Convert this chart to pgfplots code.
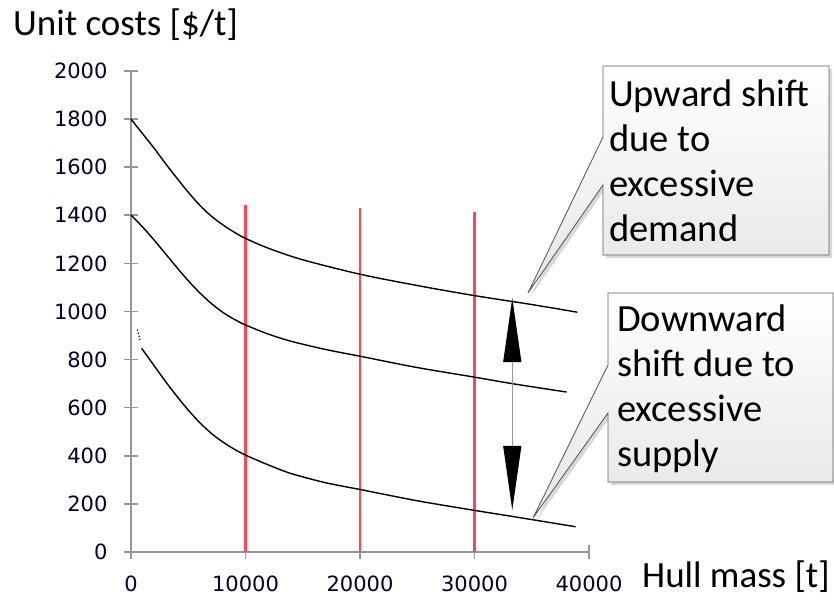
\documentclass[border=0pt]{standalone}
\usepackage{pgfplots}
\pgfplotsset{compat=1.18}
\usepackage{fontspec}
\setmainfont{Carlito}
\newfontfamily\tickfont{DejaVu Sans}
\usetikzlibrary{arrows.meta,shadows}
\definecolor{redline}{RGB}{250,70,85}
\definecolor{axgray}{RGB}{150,150,150}
\definecolor{boxline}{RGB}{95,95,95}
\begin{document}
\begin{tikzpicture}[x=1pt,y=1pt]
\begin{axis}[
  at={(131pt,47pt)}, anchor=south west,
  scale only axis,
  width=458pt, height=481pt,
  xmin=0, xmax=40000, ymin=0, ymax=2000,
  axis x line*=bottom, axis y line*=left,
  axis line style={axgray, line width=1.6pt},
  xtick={0,10000,...,40000},
  ytick={0,200,...,2000},
  tick align=center,
  major tick length=14pt,
  tick style={axgray, line width=1.6pt},
  scaled x ticks=false,
  /pgf/number format/1000 sep={},
  /pgf/number format/assume math mode=true,
  xticklabel style={font=\tickfont\fontsize{21}{21}\selectfont, text=black!85!blue, yshift=-13pt},
  yticklabel style={font=\tickfont\fontsize{21}{21}\selectfont, text=black!85!blue, xshift=-13pt},
  clip=false,
]
% red vertical lines
\addplot[redline, line width=2.4pt] coordinates {(10000,0) (10000,1443)};
\addplot[redline, line width=2.4pt] coordinates {(20000,0) (20000,1429)};
\addplot[redline, line width=2.4pt] coordinates {(30000,0) (30000,1412)};
% cost curves
\addplot[black, line width=1.4pt, smooth] coordinates {
  (0,1800) (1000,1740) (2000,1680) (3000,1616) (4000,1555) (5000,1496)
  (6000,1442) (7000,1397) (8000,1361) (9000,1330) (10000,1304) (12000,1263)
  (15000,1215) (20000,1155) (25000,1108) (30000,1066) (35000,1029) (38980,997)};
\addplot[black, line width=1.4pt, smooth] coordinates {
  (0,1401) (1000,1352) (2000,1298) (3000,1241) (4000,1183) (5000,1128)
  (6000,1078) (7000,1034) (8000,997) (9000,968) (10000,944) (12000,906)
  (14000,876) (17000,842) (20000,814) (25000,767) (30000,727) (33300,700) (38050,665)};
\addplot[black, line width=1.4pt, smooth] coordinates {
  (930,847) (2000,776) (3000,710) (4000,648) (5000,590) (6000,538) (7000,494)
  (8000,458) (9000,428) (10000,403) (12000,362) (14000,326) (17000,288)
  (20000,260) (25000,213) (30000,173) (33300,148) (38830,105)};
\addplot[black, line width=1.2pt, dotted] coordinates {(560,925) (800,880)};
% shift arrow
\addplot[axgray, line width=0.9pt,
  {Triangle[length=64pt,width=18pt,color=black,fill=black]}-{Triangle[length=64pt,width=18pt,color=black,fill=black]}]
  coordinates {(33300,1056) (33300,175)};
\end{axis}
% titles
\node[anchor=base west, inner sep=0pt, font=\fontsize{37}{45}\selectfont] at (13,563) {Unit costs [\$/t]};
\node[anchor=base west, inner sep=0pt, font=\fontsize{37}{45}\selectfont] at (642,12) {Hull mass [t]};
% callouts
\path[draw=boxline, line width=0.9pt, top color=white, bottom color=black!10,
  drop shadow={shadow xshift=3pt, shadow yshift=-3pt, fill=black!30, opacity=0.5}]
  (603,533) -- (829,533) -- (829,344) -- (603,344) -- (603,414) -- (528,306) -- (603,462) -- cycle;
\path[draw=boxline, line width=0.9pt, top color=white, bottom color=black!10,
  drop shadow={shadow xshift=3pt, shadow yshift=-3pt, fill=black!30, opacity=0.5}]
  (608,306) -- (833,306) -- (833,117) -- (608,117) -- (608,186) -- (533,81) -- (608,234) -- cycle;
\begin{scope}[every node/.style={anchor=base west, inner sep=0pt, font=\fontsize{38.5}{45}\selectfont}]
\node at (609,492.3) {Upward shift};
\node at (609,447.3) {due to};
\node at (609,402.3) {excessive};
\node at (609,357.3) {demand};
\node at (617,267.3) {Downward};
\node at (617,222.3) {shift due to};
\node at (617,177.3) {excessive};
\node at (617,132.3) {supply};
\end{scope}
\pgfresetboundingbox
\path[use as bounding box] (0,0) rectangle (834,599);
\end{tikzpicture}
\end{document}
